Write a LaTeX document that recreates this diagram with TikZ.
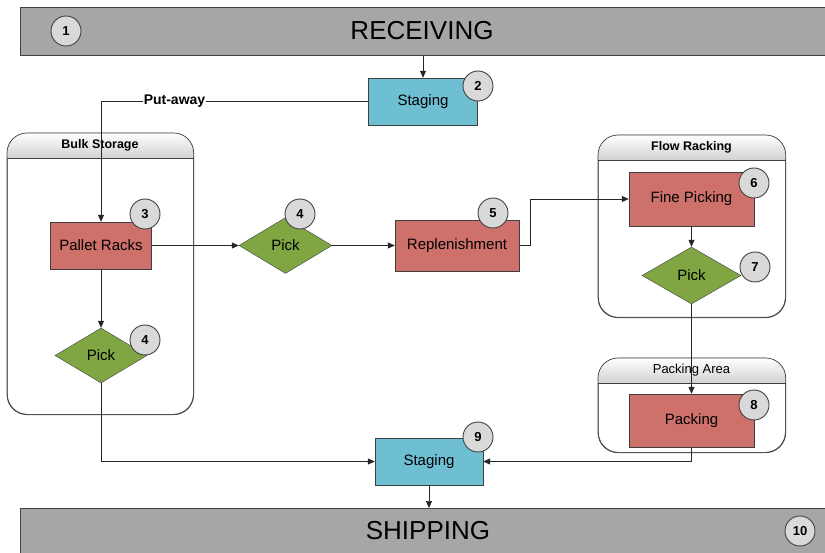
\documentclass[tikz,border=0pt]{standalone}
\usepackage{fontspec}
\setmainfont{Liberation Sans}
\usetikzlibrary{shapes.geometric,arrows.meta}
\definecolor{barfill}{HTML}{A6A6A6}
\definecolor{redbox}{HTML}{CD716A}
\definecolor{greenbox}{HTML}{7FA642}
\definecolor{bluebox}{HTML}{6FBFD3}
\definecolor{badgefill}{HTML}{D9D9D9}
\definecolor{edge}{HTML}{404040}
\tikzset{
  bar/.style={draw=edge, fill=barfill, line width=0.8pt},
  bartext/.style={font=\fontsize{26}{28}\selectfont},
  redrect/.style={draw=edge, fill=redbox, rectangle, font=\fontsize{15}{17}\selectfont, inner sep=0pt},
  bluerect/.style={draw=edge, fill=bluebox, rectangle, font=\fontsize{15}{17}\selectfont, inner sep=0pt},
  greendia/.style={draw=edge, fill=greenbox, diamond, aspect=1.7, inner sep=0pt, font=\fontsize{15}{17}\selectfont},
  badge/.style={draw=edge, fill=badgefill, circle, minimum size=30pt, inner sep=0pt, line width=0.9pt, font=\bfseries\fontsize{13}{15}\selectfont},
  container/.style={draw=edge, rounded corners=20pt, rectangle, inner sep=0pt, line width=0.7pt},
  ctitle/.style={font=\fontsize{13}{15}\selectfont, inner sep=0pt},
  flow/.style={draw=black!85, line width=0.7pt, -{Triangle[length=7pt,width=6pt]}},
}
\begin{document}
\begin{tikzpicture}[x=1pt,y=-1pt]
\useasboundingbox (0,0) rectangle (825,553);
% bars
\node[bar, rectangle, minimum width=806pt, minimum height=48pt, inner sep=0pt, anchor=north west] (recv) at (20,7) {};
\node[bartext] (recvt) at (422,31) {RECEIVING};
\node[badge] (b1) at (66,31) {1};
\node[bar, rectangle, minimum width=806pt, minimum height=48pt, inner sep=0pt, anchor=north west] (ship) at (20,508) {};
\node[bartext] (shipt) at (428,531) {SHIPPING};
\node[badge] (b10) at (800,531) {10};

% containers
\node[container, minimum width=186pt, minimum height=281pt, anchor=north west] (bulk) at (7,133) {};
\node[container, minimum width=187pt, minimum height=182pt, anchor=north west] (flowr) at (598,135) {};
\node[container, minimum width=187pt, minimum height=94pt, anchor=north west] (pack) at (598,358) {};
\foreach \c/\h in {bulk/25, flowr/25, pack/25} {
  \begin{scope}
    \clip[rounded corners=20pt] (\c.north west) rectangle (\c.south east);
    \shade[top color=white, bottom color=black!18] (\c.north west) rectangle ([yshift=-\h pt]\c.north east);
  \end{scope}
  \draw[edge, line width=0.7pt] ([yshift=-\h pt]\c.north west) -- ([yshift=-\h pt]\c.north east);
  \draw[edge, line width=0.7pt, rounded corners=20pt] (\c.north west) rectangle (\c.south east);
}
\node[ctitle, font=\bfseries\fontsize{12.5}{15}\selectfont] (bulkt) at (100,145.5) {Bulk Storage};
\node[ctitle, font=\bfseries\fontsize{12.5}{15}\selectfont] (flowt) at (691.5,147.5) {Flow Racking};
\node[ctitle] (packt) at (691.5,370.5) {Packing Area};

% boxes
\node[bluerect, minimum width=109pt, minimum height=47pt] (stg2) at (423,101.5) {Staging};
\node[redrect, minimum width=101pt, minimum height=47pt] (pallet) at (101,245.5) {Pallet Racks};
\node[greendia, minimum width=92pt, minimum height=55pt] (pick1) at (101,355.5) {Pick};
\node[greendia, minimum width=93pt, minimum height=56pt] (pick2) at (285.5,245.5) {Pick};
\node[redrect, minimum width=124pt, minimum height=51pt] (repl) at (457,245.5) {Replenishment};
\node[redrect, minimum width=125pt, minimum height=54pt] (fine) at (691.5,199) {Fine Picking};
\node[greendia, minimum width=99pt, minimum height=57pt] (pick3) at (691.5,275.5) {Pick};
\node[redrect, minimum width=125pt, minimum height=53pt] (packing) at (691.5,420.5) {Packing};
\node[bluerect, minimum width=108pt, minimum height=47pt] (stg9) at (429,461.5) {Staging};

% badges
\node[badge] (b2) at (478,86) {2};
\node[badge] (b3) at (145,214) {3};
\node[badge] (b4a) at (300,214) {4};
\node[badge] (b4b) at (145,340) {4};
\node[badge] (b5) at (493,213) {5};
\node[badge] (b6) at (754,183) {6};
\node[badge] (b7) at (755,267) {7};
\node[badge] (b8) at (754,405) {8};
\node[badge] (b9) at (478,437) {9};

% connectors
\draw[flow] (recv.south -| stg2.north) -- (stg2.north);
\draw[flow] (stg2.west) -- (stg2.west -| pallet.north) -- (pallet.north);
\node[fill=white, inner sep=1pt, font=\bfseries\fontsize{14}{16}\selectfont] (putaway) at (174.5,101.5) {Put-away};
\draw[flow] (pallet.south) -- (pick1.north);
\draw[flow] (pallet.east) -- (pick2.west);
\draw[flow] (pick2.east) -- (repl.west);
\coordinate (rj) at (530,245.5);
\draw[flow] (repl.east) -- (rj) -- (rj |- fine.west) -- (fine.west);
\draw[flow] (fine.south) -- (pick3.north);
\draw[flow] (pick3.south) -- (packing.north);
\draw[flow] (pick1.south) -- (pick1.south |- stg9.west) -- (stg9.west);
\draw[flow] (packing.south) -- (packing.south |- stg9.east) -- (stg9.east);
\draw[flow] (stg9.south) -- (stg9.south |- ship.north);
\end{tikzpicture}
\end{document}
